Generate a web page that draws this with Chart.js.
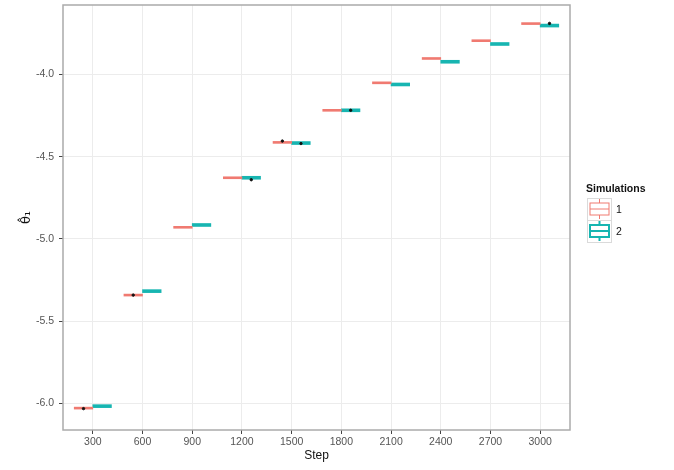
<!DOCTYPE html>
<html lang="en">
<head>
  <meta charset="utf-8">
  <title>Simulations by step</title>
  <script src="https://cdn.jsdelivr.net/npm/chart.js@4/dist/chart.umd.min.js"></script>
  <style>
    html, body { margin: 0; padding: 0; background: #fff; }
    #wrap { width: 674px; height: 470px; }
  </style>
</head>
<body>
  <div id="wrap"><canvas id="chart" width="674" height="470"></canvas></div>
  <script>
    // values
    var steps = ['300', '600', '900', '1200', '1500', '1800', '2100', '2400', '2700', '3000'];
    var sim1Median = [-6.028, -5.341, -4.929, -4.628, -4.413, -4.218, -4.051, -3.903, -3.795, -3.691];
    var sim2Median = [-6.016, -5.317, -4.915, -4.628, -4.417, -4.218, -4.061, -3.923, -3.815, -3.703];
    var sim1HalfIqr = 0.006;
    var sim2HalfIqr = 0.009;
    var sim1OutlierStep = ['300', '600', '1500'];
    var sim1OutlierValue = [-6.031, -5.341, -4.405];
    var sim2OutlierStep = ['1200', '1500', '1800', '3000'];
    var sim2OutlierValue = [-4.640, -4.420, -4.218, -3.690];
    var yTicks = [-6.0, -5.5, -5.0, -4.5, -4.0];

    var red = '#f07a71', teal = '#17b5b1';
    var font = 'Liberation Sans';
    var dodge = 0.1875;

    function boxes(medians, half) {
      return medians.map(function(m, i) { return { x: i + 1, y: [m - half, m + half] }; });
    }

    function outliers(stepList, values, shift) {
      return stepList.map(function(s, i) { return { x: steps.indexOf(s) + 1 + shift, y: values[i] }; });
    }

    var panelAndLegend = {
      id: 'panelAndLegend',
      afterDraw: function(chart) {
        var ctx = chart.ctx, a = chart.chartArea;
        ctx.save();
        ctx.strokeStyle = '#ababab';
        ctx.lineWidth = 1.5;
        ctx.strokeRect(a.left, a.top, a.right - a.left, a.bottom - a.top);

        ctx.fillStyle = '#111';
        ctx.font = 'bold 10.5px "' + font + '"';
        ctx.textBaseline = 'middle';
        ctx.fillText('Simulations', 586, 189);

        var keys = [{ c: red, y: 198, label: '1', w: 1 }, { c: teal, y: 220, label: '2', w: 2 }];
        keys.forEach(function(k) {
          ctx.fillStyle = '#fff';
          ctx.fillRect(587, k.y, 24, 22);
          ctx.strokeStyle = '#dadada';
          ctx.lineWidth = 1;
          ctx.strokeRect(587.5, k.y + 0.5, 24, 22);
          ctx.strokeStyle = k.c;
          ctx.lineWidth = k.w;
          ctx.beginPath();
          ctx.moveTo(599.5, k.y + 1); ctx.lineTo(599.5, k.y + 5);
          ctx.moveTo(599.5, k.y + 17); ctx.lineTo(599.5, k.y + 21);
          ctx.stroke();
          ctx.strokeRect(590, k.y + 5, 19, 12);
          ctx.beginPath();
          ctx.moveTo(590, k.y + 11); ctx.lineTo(609, k.y + 11);
          ctx.stroke();
          ctx.fillStyle = '#111';
          ctx.font = '10.5px "' + font + '"';
          ctx.fillText(k.label, 616, k.y + 12);
        });
        ctx.restore();
      }
    };

    new Chart(document.getElementById('chart'), {
      type: 'bar',
      data: {
        datasets: [
          { label: '1', data: boxes(sim1Median, sim1HalfIqr), backgroundColor: red,
            barThickness: 18.6, grouped: true, order: 2 },
          { label: '2', data: boxes(sim2Median, sim2HalfIqr), backgroundColor: teal,
            barThickness: 18.6, grouped: true, order: 2 },
          { type: 'scatter', label: 'outliers',
            data: outliers(sim1OutlierStep, sim1OutlierValue, -dodge).concat(outliers(sim2OutlierStep, sim2OutlierValue, dodge)),
            backgroundColor: '#111', borderColor: '#111', pointRadius: 1.2, order: 1 }
        ]
      },
      options: {
        responsive: false,
        animation: false,
        layout: { padding: { left: 0, top: 2, right: 104, bottom: 0 } },
        plugins: { legend: { display: false }, tooltip: { enabled: false } },
        scales: {
          x: {
            type: 'linear', min: 0.4, max: 10.6, offset: false,
            afterBuildTicks: function(scale) {
              scale.ticks = steps.map(function(s, i) { return { value: i + 1 }; });
            },
            afterFit: function(scale) { scale.height = 40; scale.paddingLeft = 0; scale.paddingRight = 0; },
            grid: { offset: false, color: '#ececec', lineWidth: 1, tickLength: 4, tickColor: '#444' },
            border: { display: false },
            ticks: {
              autoSkip: false, maxRotation: 0, padding: 2, color: '#555',
              font: { family: font, size: 10.5 },
              callback: function(v, i) { return steps[i]; }
            },
            title: { display: true, text: 'Step', color: '#111', font: { family: font, size: 12 },
                     padding: { top: 0, bottom: 7 } }
          },
          y: {
            min: -6.161, max: -3.578,
            afterBuildTicks: function(scale) {
              scale.ticks = yTicks.map(function(v) { return { value: v }; });
            },
            afterFit: function(scale) { scale.width = 63; scale.paddingTop = 0; scale.paddingBottom = 0; },
            grid: { color: '#ececec', lineWidth: 1, tickLength: 4, tickColor: '#444' },
            border: { display: false },
            ticks: {
              padding: 5, color: '#555',
              font: { family: font, size: 10.5 },
              callback: function(v) { return v.toFixed(1); }
            },
            title: { display: true, text: 'θ̂₁', color: '#111', font: { family: 'DejaVu Sans', size: 13 },
                     padding: { top: 19, bottom: 0 } }
          }
        }
      },
      plugins: [panelAndLegend]
    });
  </script>
</body>
</html>
